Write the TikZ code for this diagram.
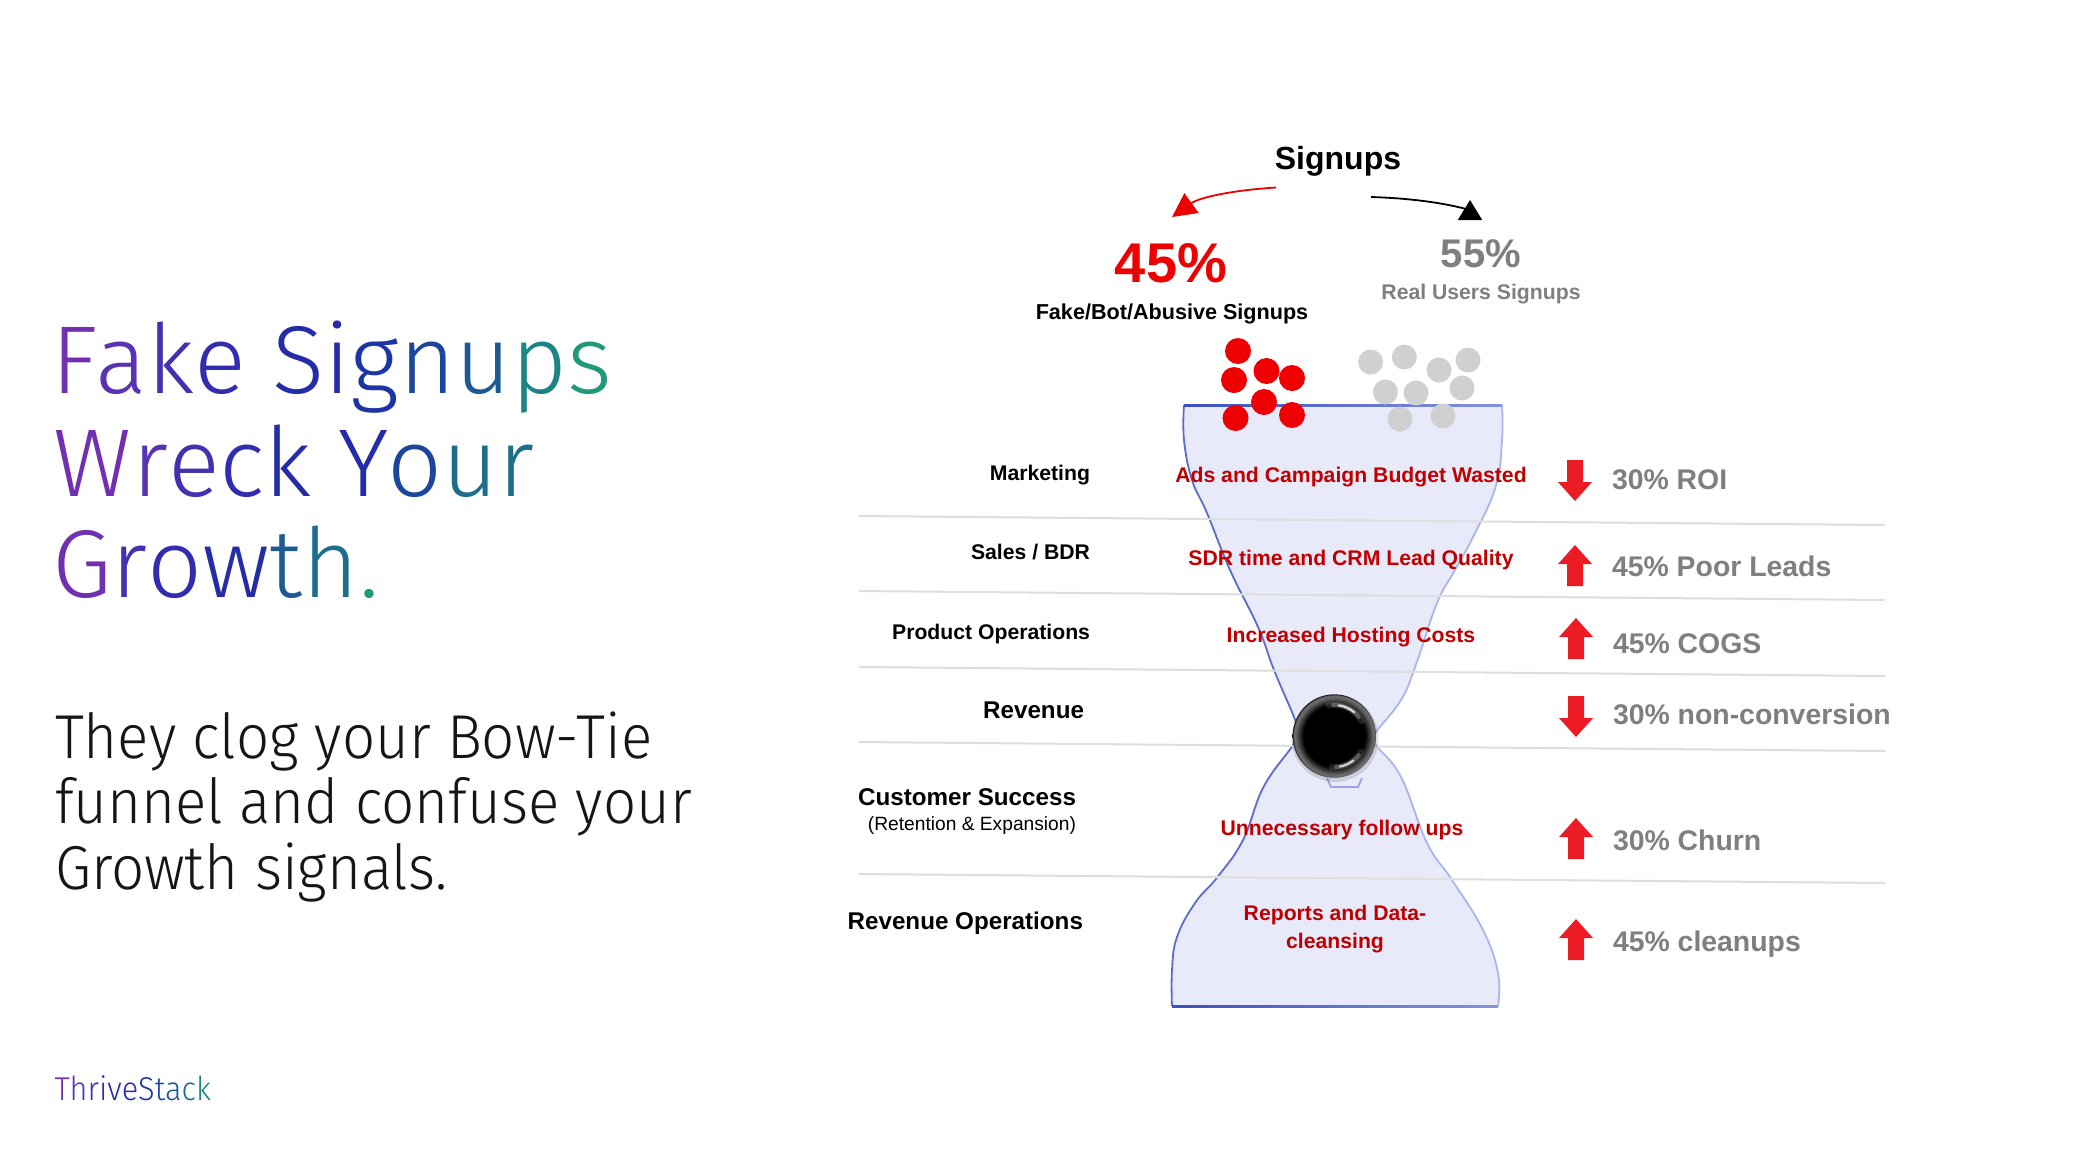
\documentclass[tikz,border=0pt]{standalone}
\usepackage{fontspec}
\setmainfont{Liberation Sans}
\newfontfamily\lightf{Fira Sans Light}
\newfontfamily\lightnarrow[FakeStretch=0.94]{Fira Sans Light}
\newfontfamily\logof[FakeStretch=0.93]{Fira Sans Light}
\usetikzlibrary{arrows.meta}
\definecolor{redtxt}{HTML}{C00000}
\definecolor{redbig}{HTML}{EE0000}
\definecolor{arrowred}{HTML}{ED1C24}
\definecolor{graytxt}{HTML}{7F7F7F}
\definecolor{dotgray}{HTML}{D0D0D0}
\definecolor{funfill}{HTML}{E8EAFA}
\definecolor{bodytxt}{HTML}{151515}
\definecolor{edgeleft}{HTML}{5B6CCB}
\definecolor{edgeright}{HTML}{ABB5E9}
\definecolor{edgedark}{HTML}{3A50BE}
\definecolor{edgemid}{HTML}{8593DD}
\definecolor{ga}{HTML}{7030B0}
\definecolor{gb}{HTML}{5A32B4}
\definecolor{gc}{HTML}{4430B0}
\definecolor{gd}{HTML}{342CB0}
\definecolor{ge}{HTML}{242CA8}
\definecolor{gf}{HTML}{1C34A4}
\definecolor{gg}{HTML}{1C469C}
\definecolor{gh}{HTML}{1C5A94}
\definecolor{gi}{HTML}{1C6E8C}
\definecolor{gj}{HTML}{1C8484}
\definecolor{gk}{HTML}{20987A}
\newcommand{\cl}[2]{\textcolor{#1}{#2}}
\pgfdeclareradialshading{ballshade}{\pgfpoint{0bp}{0bp}}{
  color(0bp)=(black); color(18.6bp)=(black); color(22.8bp)=(black!62!white);
  color(24.2bp)=(black!55!white); color(25bp)=(black!88!white); color(50bp)=(black)}
\tikzset{
  x=0.5pt,y=-0.5pt,
  every node/.style={inner sep=0pt,outer sep=0pt},
  lab/.style={anchor=base east,font=\bfseries\fontsize{10.6}{13}\selectfont,text=black},
  biglab/.style={anchor=base east,font=\bfseries\fontsize{12.1}{14}\selectfont,text=black},
  redlab/.style={anchor=base,font=\bfseries\fontsize{10.6}{13}\selectfont,text=redtxt},
  stat/.style={anchor=base west,font=\bfseries\fontsize{14.2}{16}\selectfont,text=graytxt},
  titlef/.style={anchor=base west,font=\lightf\fontsize{48.2}{48}\selectfont},
  bodyf/.style={anchor=base west,text=bodytxt,font=\lightnarrow\fontsize{31}{32}\selectfont},
  reddot/.style={fill=redbig,draw=none},
  greydot/.style={fill=dotgray,draw=none},
  rowline/.style={draw=black!13,line width=1pt},
  glint/.style={white,line cap=round},
  uparrow/.pic={\fill[arrowred] (0,-21) -- (17,-2) -- (8,-2) -- (8,20) -- (-8,20) -- (-8,-2) -- (-17,-2) -- cycle;},
  downarrow/.pic={\fill[arrowred] (0,21) -- (17,2) -- (8,2) -- (8,-20) -- (-8,-20) -- (-8,2) -- (-17,2) -- cycle;},
}
\begin{document}
\begin{tikzpicture}
\useasboundingbox (0,0) rectangle (2078,1169);
\fill[white] (0,0) rectangle (2078,1169);
% title
\node[titlef] (t1) at (51,393.5)
 {\cl{ga}{F}\kern-1pt\cl{gb}{a}\cl{gc}{k}\cl{gd}{e} \cl{ge}{S}\cl{ge}{i}\cl{gf}{g}\cl{gg}{n}\cl{gh}{u}\cl{gj}{p}\cl{gk}{s}};
\node[titlef] (t2) at (54,496)
 {\cl{ga}{W}\cl{gb}{r}\cl{gc}{e}\cl{gd}{c}\cl{ge}{k} \cl{ge}{Y}\kern-1pt\cl{gg}{o}\cl{gi}{u}\cl{gi}{r}};
\node[titlef] (t3) at (52,597)
 {\cl{ga}{G}\cl{gc}{r}\cl{gd}{o}\cl{ge}{w}\cl{gh}{t}\cl{gi}{h}\cl{gk}{.}};
% body
\node[bodyf] (b1) at (55,758) {They clog your Bow-Tie};
\node[bodyf] (b2) at (55,823) {funnel and confuse your};
\node[bodyf] (b3) at (55,889.5) {Growth signals.};
% logo
\node[anchor=base west,font=\logof\fontsize{16.5}{18}\selectfont] (logo) at (54.5,1100)
 {\cl{ga}{T}\cl{gb}{h}\cl{gc}{r}\cl{gd}{i}\cl{ge}{v}\cl{ge}{e}\cl{gf}{S}\cl{gg}{t}\cl{gh}{a}\cl{gi}{c}\cl{gj}{k}};
% funnel
\def\leftside{(1184,405) (1184,440) (1192,480) (1207,513) (1230,570) (1258,627) (1274,670) (1294,717) (1298,731) (1293,745) (1263.5,787) (1243,840) (1217.5,877) (1195,903) (1177,937) (1172,970) (1172,1006)}
\def\rightside{(1498,1006) (1498,973) (1483,930) (1452,880) (1427,843) (1401,777) (1376,745) (1374,735) (1401,700) (1416.5,663) (1437,603) (1455,570) (1473,537) (1495.6,487) (1502,440) (1502,405)}
\fill[funfill] plot[smooth,tension=.7] coordinates {\leftside} -- plot[smooth,tension=.7] coordinates {\rightside} -- cycle;
\draw[draw=edgeright,line width=.9pt] plot[smooth,tension=.7] coordinates {\rightside};
\draw[draw=edgeleft,line width=.9pt] plot[smooth,tension=.7] coordinates {\leftside};
\fill[funfill] (1327,778) -- (1331,787) -- (1358,787) -- (1362,778) -- cycle;
\draw[draw=edgemid!85!white,line width=.9pt] (1327,778) -- (1331,787) -- (1358,787) -- (1362,778);
\shade[left color=edgedark,right color=edgemid] (1184,404) rectangle (1502,406.5);
\shade[left color=edgedark,right color=edgemid] (1172,1005) rectangle (1498,1007.5);
% row lines
\draw[rowline] (859,516) -- (1885,525);
\draw[rowline] (859,591) -- (1885,600);
\draw[rowline] (859,667) -- (1885,676);
\draw[rowline] (859,742) -- (1885,751);
\draw[rowline] (859,874) -- (1885,883);
% ball
\fill[black,opacity=.12] (1335,738.5) circle (43.5);
\shade[shading=ballshade] (1334.3,736) circle (41.7);
\foreach \w/\a/\b/\o in {3/-100/-28/.12, 2/-92/-38/.25, 1/-82/-50/.8}
  \draw[glint,line width=\w pt,opacity=\o] ([shift={(\a:31)}]1334.3,736) arc[start angle=\a,end angle=\b,radius=31];
\foreach \w/\a/\b/\o in {3/-150/-85/.12, 2/-142/-93/.25, 1/-128/-100/.75}
  \draw[glint,line width=\w pt,opacity=\o] ([shift={(\a:-31)}]1334.3,736) arc[start angle=\a+180,end angle=\b+180,radius=31];
% heading
\node[anchor=base,font=\bfseries\fontsize{16}{18}\selectfont] (signups) at (1338,169) {Signups};
\node[anchor=base,font=\bfseries\fontsize{28}{30}\selectfont,text=redbig] (fakepct) at (1171,282) {45\%};
\node[anchor=base,font=\bfseries\fontsize{10.8}{13}\selectfont] (fakelab) at (1172,319) {Fake/Bot/Abusive Signups};
\node[anchor=base,font=\bfseries\fontsize{20}{22}\selectfont,text=graytxt] (realpct) at (1481,267) {55\%};
\node[anchor=base,font=\bfseries\fontsize{10.6}{13}\selectfont,text=graytxt] (reallab) at (1481,299) {Real Users Signups};
% top arrows
\coordinate (rs) at (1276,187.5);
\coordinate (re) at (1172,217);
\draw[redbig,line width=.9pt,-{Triangle[length=12pt,width=12pt]}] (rs) .. controls (1235,190) and (1200,197) .. (re);
\coordinate (bs) at (1371,197);
\coordinate (bm) at (1466,209);
\coordinate (bb) at (1470,219);
\coordinate (be) at (1470,200);
\draw[black,line width=.9pt] (bs) .. controls (1405,198) and (1440,202) .. (bm);
\draw[black,line width=.9pt,-{Triangle[length=10pt,width=12pt]}] (bb) -- (be);
% dots
\foreach \x/\y in {1238/351,1266.5/371,1292/378,1234/380,1264/402,1235.5/418,1292/415}
  \fill[reddot] (\x,\y) circle (13);
\foreach \x/\y in {1370.6/362,1404.3/357,1439/370,1468/360,1385.4/392,1416/393,1462/388,1400/419,1443/416}
  \fill[greydot] (\x,\y) circle (12.5);
% left labels
\node[lab] (mk) at (1090,480) {Marketing};
\node[lab] (sl) at (1090,559.5) {Sales / BDR};
\node[lab] (po) at (1090,639) {Product Operations};
\node[biglab] (rv) at (1084,718) {Revenue};
\node[biglab] (cs) at (1076,805) {Customer Success};
\node[anchor=base east,font=\fontsize{9.6}{12}\selectfont] (rx) at (1076,830) {(Retention \& Expansion)};
\node[biglab] (ro) at (1083,929) {Revenue Operations};
% mid labels
\node[redlab] (m1) at (1351,482.5) {Ads and Campaign Budget Wasted};
\node[redlab] (m2) at (1351,565.5) {SDR time and CRM Lead Quality};
\node[redlab] (m3) at (1351,642.5) {Increased Hosting Costs};
\node[redlab] (m4) at (1342,835) {Unnecessary follow ups};
\node[redlab] (m5) at (1335,920) {Reports and Data-};
\node[redlab] (m6) at (1335,948) {cleansing};
% right arrows
\pic at (1575,480) {downarrow};
\pic at (1575,566) {uparrow};
\pic at (1576,639) {uparrow};
\pic at (1576,716) {downarrow};
\pic at (1576,839) {uparrow};
\pic at (1576,940) {uparrow};
% stats
\node[stat] (s1) at (1612,489) {30\% ROI};
\node[stat] (s2) at (1612,576.5) {45\% Poor Leads};
\node[stat] (s3) at (1613,653) {45\% COGS};
\node[stat] (s4) at (1613,724) {30\% non-conversion};
\node[stat] (s5) at (1613,850) {30\% Churn};
\node[stat] (s6) at (1613,951) {45\% cleanups};
\end{tikzpicture}
\end{document}
